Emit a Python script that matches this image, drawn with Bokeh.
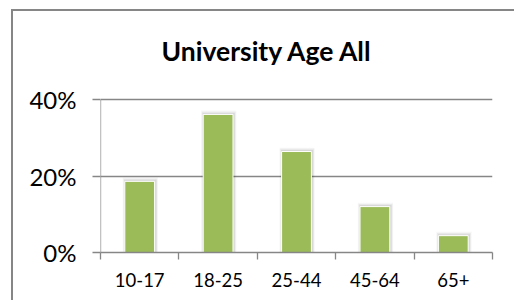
from bokeh.plotting import figure
from bokeh.models import Range1d, FixedTicker, NumeralTickFormatter
from bokeh.core.properties import value
from bokeh.embed import file_html
from bokeh.resources import INLINE

title_text = "University Age All"
categories = ["10-17", "18-25", "25-44", "45-64", "65+"]
values = [0.186, 0.361, 0.264, 0.120, 0.044]
y_ticks = [0.0, 0.2, 0.4]

n = len(categories)
xs = [i + 0.5 for i in range(n)]
y_top = y_ticks[-1]
px_per_unit = 153 / y_top          # frame: 0 -> 40% spans 153 px
y_end = y_top + 79 / px_per_unit   # extra room above the plot for the title

p = figure(width=503, height=291, output_backend="svg", toolbar_location=None,
           x_range=Range1d(0, n), y_range=Range1d(0, y_end),
           min_border_left=87, min_border_right=24, min_border_top=9, min_border_bottom=50)
p.margin = (9, 0, 0, 11)
p.styles = {"border-left": "2px solid #868686", "border-top": "2px solid #868686"}
p.background_fill_color = "white"
p.border_fill_color = "white"
p.outline_line_color = None

# soft shadow around bars
for dw, dy, a in [(0.07, 0.010, 0.035), (0.05, 0.007, 0.05), (0.03, 0.004, 0.07)]:
    p.vbar(x=[x + 0.008 for x in xs], width=0.38 + dw, top=[v + dy for v in values], bottom=0,
           fill_color="#000000", fill_alpha=a, line_color=None)
p.vbar(x=xs, width=0.38, top=values, bottom=0, fill_color="#9BBB59",
       line_color="#ffffff", line_width=1)

# y axis line only from 0 to 40%
p.segment(x0=[0], y0=[0], x1=[0], y1=[y_top], line_color="#868686", line_width=1.3)

p.xgrid.grid_line_color = None
p.ygrid.ticker = FixedTicker(ticks=y_ticks)
p.ygrid.grid_line_color = "#868686"
p.ygrid.grid_line_width = 1.3

yax = p.yaxis[0]
yax.ticker = FixedTicker(ticks=y_ticks)
yax.formatter = NumeralTickFormatter(format="0%")
yax.axis_line_color = None
yax.major_tick_line_color = "#868686"
yax.major_tick_line_width = 1.3
yax.major_tick_out = 8
yax.major_tick_in = 0
yax.minor_tick_line_color = None
yax.major_label_standoff = 16
yax.major_label_text_font = "Lato"
yax.major_label_text_font_size = "24px"
yax.major_label_text_color = "#000000"

xax = p.xaxis[0]
xax.ticker = FixedTicker(ticks=xs, minor_ticks=list(range(n + 1)))
xax.major_label_overrides = {x: c for x, c in zip(xs, categories)}
xax.axis_line_color = "#868686"
xax.axis_line_width = 1.3
xax.major_tick_line_color = None
xax.minor_tick_line_color = "#868686"
xax.minor_tick_line_width = 1.3
xax.minor_tick_out = 7
xax.minor_tick_in = 0
xax.major_label_standoff = 13
xax.major_label_text_font = "Lato"
xax.major_label_text_font_size = "18.5px"
xax.major_label_text_color = "#000000"

# chart title drawn inside the (extended) frame
p.text(x=[61 / (392 / n)], y=[202 / px_per_unit], text=[title_text],
       text_font=value("Lato"), text_font_size="26.5px", text_font_style="bold",
       text_color="#000000", text_baseline="alphabetic", text_align="left")

open("out.html", "w").write(file_html(p, INLINE))
